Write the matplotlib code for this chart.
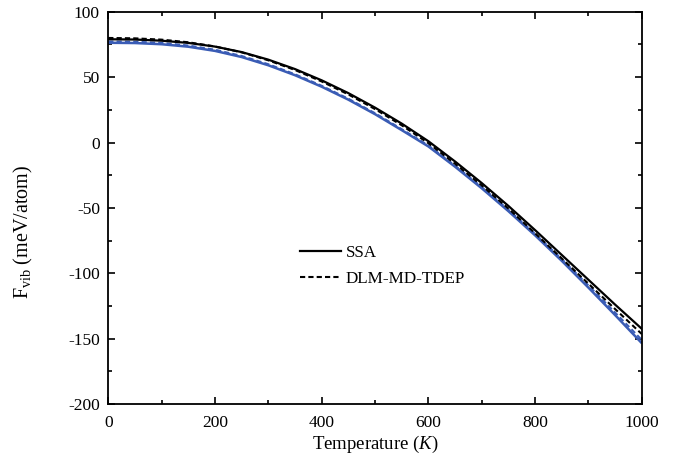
import matplotlib
matplotlib.use("Agg")
import matplotlib.pyplot as plt
from matplotlib.ticker import MultipleLocator

plt.rcParams['font.family'] = ['Liberation Serif', 'DejaVu Serif']
plt.rcParams['mathtext.fontset'] = 'custom'
plt.rcParams['mathtext.rm'] = 'Liberation Serif'
plt.rcParams['mathtext.it'] = 'Liberation Serif:italic'
plt.rcParams['axes.unicode_minus'] = False

temperature = [0, 50, 100, 150, 200, 250, 300, 350, 400, 450, 500,
               550, 600, 650, 700, 750, 800, 850, 900, 950, 1000]
ssa_black = [79.0, 78.8, 77.9, 76.2, 73.4, 69.2, 63.4, 56.2, 47.6, 37.8, 26.7,
             14.5, 1.0, -14.5, -31.0, -48.5, -67.0, -86.0, -105.0, -124.0, -142.5]
tdep_black = [80.0, 79.7, 78.7, 76.7, 73.5, 69.0, 62.9, 55.5, 46.7, 36.8, 25.6,
              13.2, -0.5, -16.2, -32.8, -50.5, -69.4, -88.7, -108.0, -127.4, -146.5]
ssa_blue = [76.3, 76.1, 75.2, 73.3, 70.1, 65.4, 59.1, 51.5, 42.7, 32.8, 21.7,
            9.5, -3.0, -18.5, -35.0, -52.5, -71.0, -90.5, -111.0, -132.0, -153.5]
tdep_blue = [77.3, 77.1, 76.2, 74.2, 71.0, 66.2, 59.9, 52.2, 43.4, 33.5, 22.4,
             10.2, -2.3, -17.7, -34.1, -51.5, -69.9, -89.2, -109.4, -130.1, -151.0]

legend_labels = ['SSA', 'DLM-MD-TDEP']

fig = plt.figure(figsize=(6.85, 4.72), dpi=100)
ax = fig.add_axes([0.158, 0.144, 0.779, 0.831])

blue = '#3a5cb5'
ax.plot(temperature, ssa_blue, color=blue, lw=1.8, solid_capstyle='butt')
ax.plot(temperature, tdep_blue, color=blue, lw=1.5, ls=(0, (2.5, 1.5)))
l1, = ax.plot(temperature, ssa_black, color='black', lw=1.6, label=legend_labels[0])
l2, = ax.plot(temperature, tdep_black, color='black', lw=1.5, ls=(0, (2.5, 1.5)),
              label=legend_labels[1])

ax.set_xlim(0, 1000)
ax.set_ylim(-200, 100)
ax.xaxis.set_major_locator(MultipleLocator(200))
ax.xaxis.set_minor_locator(MultipleLocator(100))
ax.yaxis.set_major_locator(MultipleLocator(50))
ax.yaxis.set_minor_locator(MultipleLocator(25))
ax.tick_params(which='both', direction='in', top=True, right=True, labelsize=12.5,
               width=1.2)
ax.tick_params(which='major', length=5)
ax.tick_params(axis='x', which='major', pad=8)
ax.tick_params(axis='y', which='major', pad=6)
ax.tick_params(which='minor', length=3)
for s in ax.spines.values():
    s.set_linewidth(1.3)

ax.set_xlabel('Temperature ($\\mathit{K}$)', fontsize=13.5, labelpad=2)
ax.set_ylabel('F$_{\\mathrm{vib}}$ (meV/atom)', fontsize=14.5)
ax.yaxis.set_label_coords(-0.138, 0.44)

ax.legend(handles=[l1, l2], loc='center left', bbox_to_anchor=(0.331, 0.352),
          frameon=False, fontsize=12.3, handlelength=2.4, handletextpad=0.25,
          labelspacing=0.6)

fig.savefig('out.png', dpi=100)
